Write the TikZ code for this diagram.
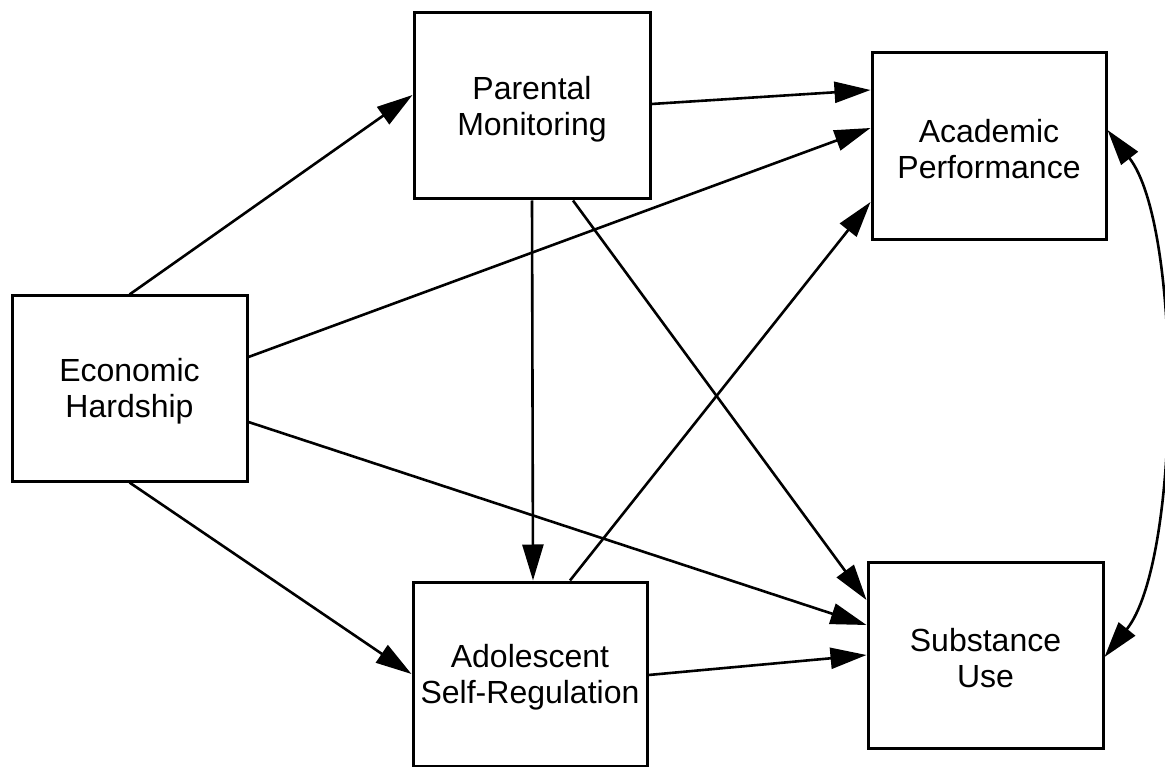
\documentclass[tikz,border=0pt]{standalone}
\usepackage{fontspec}
\setmainfont{Liberation Sans}
\usetikzlibrary{arrows.meta,calc}
\begin{document}
\begin{tikzpicture}[x=1pt,y=-1pt,
  every node/.style={inner sep=0pt},
  box/.style={draw,line width=3pt},
  caption/.style={align=center,font=\fontsize{32}{36}\selectfont,yshift=-3pt},
  path/.style={line width=2.6pt,-{Triangle[length=36pt,width=21pt]}},
  both/.style={line width=2.6pt,{Triangle[length=36pt,width=21pt]}-{Triangle[length=36pt,width=21pt]}}]
\useasboundingbox (0,0) rectangle (1165,767);

% constructs
\node[box,minimum width=235pt,minimum height=185pt,
  label={[caption]center:Economic\\Hardship}] (eh) at (129.5,388.5) {};
\node[box,minimum width=236pt,minimum height=186pt,
  label={[caption]center:Parental\\Monitoring}] (pm) at (532,106) {};
\node[box,minimum width=234pt,minimum height=187pt,
  label={[caption]center:Academic\\Performance}] (ap) at (989,146.5) {};
\node[box,minimum width=234pt,minimum height=184pt,
  label={[caption]center:Adolescent\\Self-Regulation}] (asr) at (530,674) {};
\node[box,minimum width=235pt,minimum height=186pt,
  label={[caption]center:Substance\\Use}] (su) at (985.5,655) {};

% paths from economic hardship
\draw[path] (eh.north) -- ([yshift=11pt]pm.west);
\draw[path] ([yshift=31.5pt]eh.east) -- ([yshift=18.5pt]ap.west);
\draw[path] ([yshift=-33.5pt]eh.east) -- ([yshift=30pt]su.west);
\draw[path] (eh.south) -- (asr.west);

% paths from parental monitoring
\draw[path] ([yshift=2pt]pm.east) -- ([yshift=56.5pt]ap.west);
\draw[path] (pm.south) -- ([xshift=3pt]asr.north);
\draw[path] ([xshift=41pt]pm.south) -- ([yshift=55pt]su.west);

% paths from self-regulation
\draw[path] ([xshift=40pt]asr.north) -- ([yshift=-55.5pt]ap.west);
\draw[path] ([yshift=-1pt]asr.east) -- (su.west);

% correlated outcomes
\coordinate (apr) at ([yshift=16.5pt]ap.east);
\coordinate (sur) at ([yshift=-2pt]su.east);
\draw[both] (apr) .. controls ($(apr)+(75,96)$) and ($(sur)+(77,-96)$) .. (sur);
\end{tikzpicture}
\end{document}
